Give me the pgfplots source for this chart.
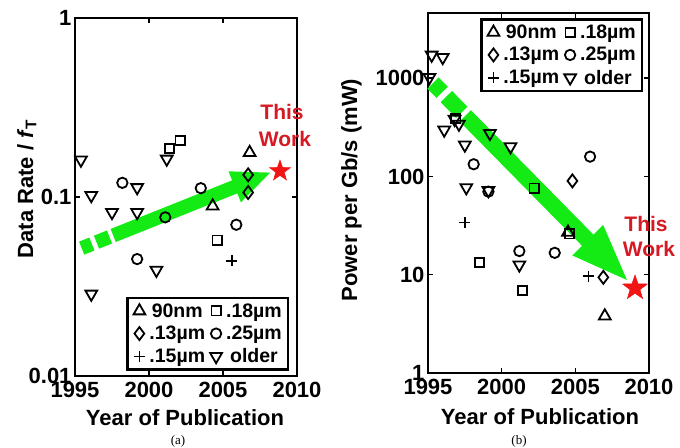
\documentclass[border=0pt]{standalone}
\usepackage{fontspec}
\setmainfont{Liberation Sans}
\newfontfamily\capfont{Liberation Serif}
\usepackage{pgfplots}
\pgfplotsset{compat=1.18}
\usetikzlibrary{arrows.meta}

\definecolor{arrowgreen}{RGB}{20,235,20}
\definecolor{starred}{RGB}{240,20,20}
\definecolor{workred}{RGB}{215,25,35}

\pgfdeclareplotmark{fstar}{%
  \pgfpathmoveto{\pgfpointpolar{90}{\pgfplotmarksize}}%
  \pgfpathlineto{\pgfpointpolar{126}{0.4\pgfplotmarksize}}%
  \pgfpathlineto{\pgfpointpolar{162}{\pgfplotmarksize}}%
  \pgfpathlineto{\pgfpointpolar{198}{0.4\pgfplotmarksize}}%
  \pgfpathlineto{\pgfpointpolar{234}{\pgfplotmarksize}}%
  \pgfpathlineto{\pgfpointpolar{270}{0.4\pgfplotmarksize}}%
  \pgfpathlineto{\pgfpointpolar{306}{\pgfplotmarksize}}%
  \pgfpathlineto{\pgfpointpolar{342}{0.4\pgfplotmarksize}}%
  \pgfpathlineto{\pgfpointpolar{18}{\pgfplotmarksize}}%
  \pgfpathlineto{\pgfpointpolar{54}{0.4\pgfplotmarksize}}%
  \pgfpathclose
  \pgfusepathqfillstroke}

\pgfplotsset{
  mk/.style={only marks, mark size=#1,
    legend image code/.code={\path[draw=none,fill=none] (-1bp,0bp) -- (14bp,0bp); \draw[##1] plot coordinates {(7bp,0bp)};}},
  s90/.style={mk=6.8bp, mark=triangle, mark options={line width=1.8bp, draw=black, line join=miter}},
  s18/.style={mk=4.6bp, mark=square, mark options={line width=1.8bp, draw=black}},
  s13/.style={mk=6.5bp, mark=diamond, mark options={line width=1.8bp, draw=black}},
  s25/.style={mk=5.2bp, mark=o, mark options={line width=1.8bp, draw=black}},
  s15/.style={mk=5.5bp, mark=+, mark options={line width=1.8bp, draw=black}},
  sold/.style={mk=6.8bp, mark=triangle, mark options={line width=1.8bp, draw=black, rotate=180}},
  tstar/.style={forget plot, only marks, mark=fstar, mark size=#1, mark options={draw=starred, fill=starred, line width=0.5bp}},
}

\begin{document}
\begin{tikzpicture}[font=\bfseries]
\useasboundingbox (0,0) rectangle (680bp,448bp);

% ---------------- (a) ----------------
\begin{axis}[
  scale only axis, clip=false,
  ymode=log,
  xmin=1995, xmax=2010,
  xtick={1995,2000,2005,2010},
  xticklabels={1995,2000,2005,2010},
  tick align=inside,
  major tick length=5bp,
  tick style={line width=1.5bp, black},
  yminorticks=false, xminorticks=false,
  axis line style={line width=2.5bp},
  tick label style={font=\fontsize{22bp}{24bp}\selectfont\bfseries},
  xticklabel style={yshift=-3bp},
  legend columns=2,
  legend style={draw=black, line width=2.5bp, fill=white,
    font=\fontsize{19.5bp}{21bp}\selectfont\bfseries,
    inner xsep=4bp, inner ysep=3.5bp, row sep=3.5bp, column sep=1bp,
    at={(0.964,0.014)}, anchor=south east},
  at={(75bp,72bp)}, anchor=south west,
  width=222bp, height=358bp,
  ymin=0.01, ymax=1,
  ytick={0.01,0.1,1}, yticklabels={0.01,0.1,1},
]
\addplot[forget plot, no marks, draw=arrowgreen, line width=14bp, line cap=butt,
  dash pattern=on 11bp off 5bp on 14bp off 4bp on 400bp off 0bp,
  -{Triangle[length=40bp,width=30bp]}]
  coordinates {(1995.45,0.0518) (2008.3,0.138)};

\addplot[s90] coordinates {(2006.8,0.177) (2004.3,0.089)};
\addplot[s18] coordinates {(2001.4,0.187) (2002.1,0.207) (2004.6,0.0575)};
\addplot[s13] coordinates {(2006.7,0.133) (2006.7,0.106)};
\addplot[s25] coordinates {(1998.2,0.12) (2003.5,0.112) (2001.1,0.077) (2005.9,0.070) (1999.2,0.045)};
\addplot[s15] coordinates {(2005.6,0.044)};
\addplot[sold] coordinates {(1995.4,0.161) (1996.1,0.102) (1999.2,0.113) (2001.2,0.163)
  (1997.5,0.082) (1999.2,0.082) (2000.5,0.039) (1996.1,0.0287)};
\addplot[tstar=11bp] coordinates {(2008.85,0.1397)};
\legend{90nm\hspace{7bp}, .18µm, .13µm\hspace{7bp}, .25µm, .15µm\hspace{7bp}, older}
\end{axis}

% ---------------- (b) ----------------
\begin{axis}[
  scale only axis, clip=false,
  ymode=log,
  xmin=1995, xmax=2010,
  xtick={1995,2000,2005,2010},
  xticklabels={1995,2000,2005,2010},
  tick align=inside,
  major tick length=5bp,
  tick style={line width=1.5bp, black},
  yminorticks=false, xminorticks=false,
  axis line style={line width=2.5bp},
  tick label style={font=\fontsize{22bp}{24bp}\selectfont\bfseries},
  xticklabel style={yshift=-3bp},
  legend columns=2,
  legend style={draw=black, line width=2.5bp, fill=white,
    font=\fontsize{19.5bp}{21bp}\selectfont\bfseries,
    inner xsep=4bp, inner ysep=3.5bp, row sep=3.5bp, column sep=1bp,
    at={(0.973,0.986)}, anchor=north east},
  at={(428bp,75bp)}, anchor=south west,
  width=221bp, height=360bp,
  ymin=1, ymax=4600,
  ytick={1,10,100,1000}, yticklabels={1,10,100,1000},
]
\addplot[forget plot, no marks, draw=arrowgreen, line width=16bp, line cap=butt,
  dash pattern=on 13bp off 6bp on 22bp off 5bp on 500bp off 0bp,
  -{Triangle[length=60bp,width=38bp]}]
  coordinates {(1995.34,891) (2008.7,8.24)};

\addplot[s90] coordinates {(2004.5,27) (2007.0,3.8)};
\addplot[s18] coordinates {(1996.9,390) (2002.2,76) (2004.6,26) (1998.5,13.3) (2001.4,6.9)};
\addplot[s13] coordinates {(2004.8,90) (2006.9,9.4)};
\addplot[s25] coordinates {(1998.1,133) (2006.0,159) (1999.1,70) (2001.2,17.4) (2003.6,16.7)};
\addplot[s15] coordinates {(1997.5,34) (2005.9,9.7)};
\addplot[sold] coordinates {(1995.25,1718) (1996.0,1626) (1995.1,1019) (1996.8,382) (1997.1,341)
  (1996.1,297) (1997.5,209) (1999.2,274) (2000.6,201) (1997.6,77) (1999.1,72) (2001.2,12.6)};
\addplot[tstar=13bp] coordinates {(2009.05,7.32)};
\legend{90nm\hspace{7bp}, .18µm, .13µm\hspace{7bp}, .25µm, .15µm\hspace{7bp}, older}
\end{axis}

% ---------------- labels ----------------
\begin{scope}[font=\fontsize{22bp}{24bp}\selectfont\bfseries]
\node[rotate=90, anchor=base] at (33bp,259bp) {Data Rate / \textit{f}\textsubscript{T}};
\node[rotate=90, anchor=base] at (357bp,258bp) {Power per Gb/s (mW)};
\node[anchor=base] at (185bp,23bp) {Year of Publication};
\node[anchor=base] at (540bp,24bp) {Year of Publication};
\end{scope}
\begin{scope}[font=\fontsize{21bp}{24bp}\selectfont\bfseries, text=workred]
\node[anchor=base] at (282bp,328bp) {This};
\node[anchor=base] at (285bp,301bp) {Work};
\node[anchor=base] at (646bp,216bp) {This};
\node[anchor=base] at (649bp,191bp) {Work};
\end{scope}
\node[anchor=base, font=\capfont\fontsize{13bp}{15bp}\selectfont] at (178bp,4bp) {(a)};
\node[anchor=base, font=\capfont\fontsize{13bp}{15bp}\selectfont] at (519bp,4bp) {(b)};
\end{tikzpicture}
\end{document}
